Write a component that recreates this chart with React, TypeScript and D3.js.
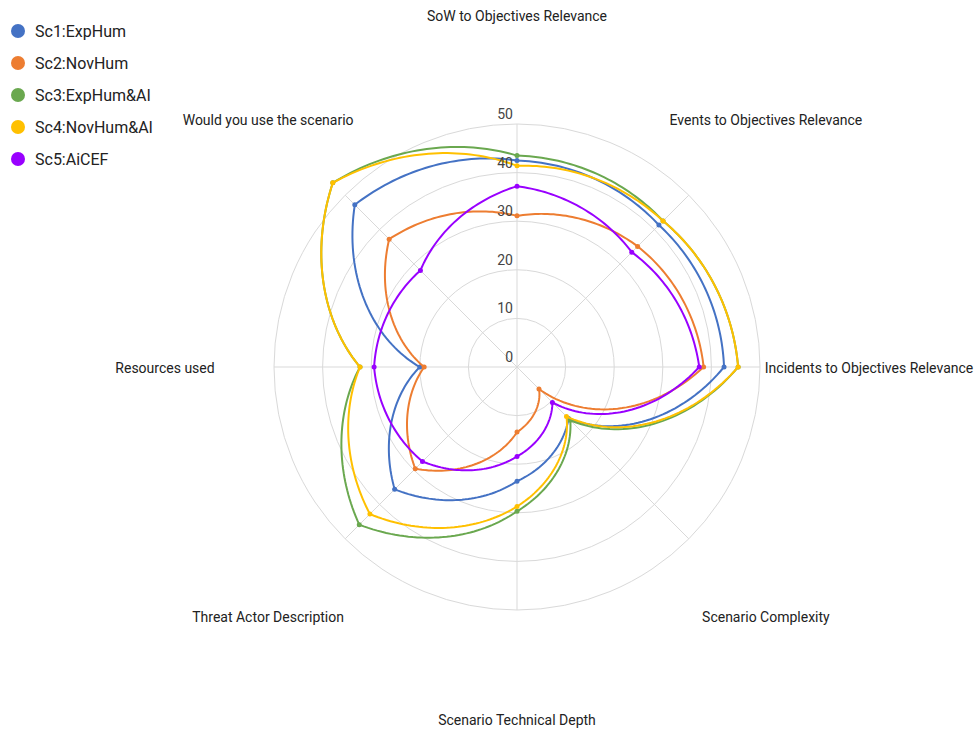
import { useEffect } from 'react'
import { lineRadial, scaleLinear } from 'd3'

const WIDTH = 979
const HEIGHT = 733
const CX = 517
const CY = 367
const RADIUS = 243
const LABEL_RADIUS = 352

const axes = [
  'SoW to Objectives Relevance',
  'Events to Objectives Relevance',
  'Incidents to Objectives Relevance',
  'Scenario Complexity',
  'Scenario Technical Depth',
  'Threat Actor Description',
  'Resources used',
  'Would you use the scenario',
]

const ticks = [0, 10, 20, 30, 40, 50]

const seriesNames = ['Sc1:ExpHum', 'Sc2:NovHum', 'Sc3:ExpHum&AI', 'Sc4:NovHum&AI', 'Sc5:AiCEF']
const seriesColors = ['#4472c4', '#ed7d31', '#6aa84f', '#ffc000', '#9900ff']

const sc1 = [42.5, 41.3, 42.6, 15, 23.5, 35.6, 20, 47.2]
const sc2 = [31.1, 35.1, 38.4, 6.4, 13.4, 29.6, 19.1, 37.2]
const sc3 = [43.5, 42.5, 45.5, 15.5, 29.7, 45.9, 32.3, 53.6]
const sc4 = [41.4, 42.5, 45.5, 14.4, 28.7, 42.8, 32.3, 53.6]
const sc5 = [37.2, 33.4, 37.5, 10.3, 18.4, 27.5, 29.4, 28.1]

const seriesValues = [sc1, sc2, sc3, sc4, sc5]

// closed curve that joins points along spirals (radius linear in angle), like the polar chart does
function curvePolarClosed(context: any) {
  let pts: [number, number][] = []
  return {
    areaStart() {},
    areaEnd() {},
    lineStart() {
      pts = []
    },
    point(x: number, y: number) {
      pts.push([x, y])
    },
    lineEnd() {
      const n = pts.length
      for (let i = 0; i < n; i++) {
        const [ax, ay] = pts[i]
        const [bx, by] = pts[(i + 1) % n]
        const ra = Math.hypot(ax, ay)
        const rb = Math.hypot(bx, by)
        const ta = Math.atan2(ay, ax)
        let tb = Math.atan2(by, bx)
        while (tb - ta > Math.PI) tb -= 2 * Math.PI
        while (tb - ta < -Math.PI) tb += 2 * Math.PI
        if (i === 0) context.moveTo(ax, ay)
        const steps = 40
        for (let s = 1; s <= steps; s++) {
          const t = s / steps
          const r = ra + (rb - ra) * t
          const th = ta + (tb - ta) * t
          context.lineTo(r * Math.cos(th), r * Math.sin(th))
        }
      }
      context.closePath()
    },
  }
}

export default function App() {
  useEffect(() => {
    document.body.style.margin = '0'
  }, [])

  const r = scaleLinear().domain([0, 50]).range([0, RADIUS])
  const angle = (i: number) => (i * 2 * Math.PI) / axes.length

  const radar = lineRadial<number>()
    .angle((_, i) => angle(i))
    .radius((v) => r(v))
    .curve(curvePolarClosed as any)

  const font = 'Roboto, Arial, sans-serif'

  return (
    <svg width={WIDTH} height={HEIGHT} style={{ display: 'block', background: '#fff' }}>
      <g transform={`translate(${CX},${CY})`}>
        {ticks.slice(1).map((t) => (
          <circle key={t} r={r(t)} fill="none" stroke="#d9d9d9" strokeWidth={1} />
        ))}
        {axes.map((_, i) => (
          <line
            key={i}
            x1={0}
            y1={0}
            x2={r(50) * Math.sin(angle(i))}
            y2={-r(50) * Math.cos(angle(i))}
            stroke="#d9d9d9"
            strokeWidth={1}
          />
        ))}
        {axes.map((label, i) => (
          <text
            key={label}
            x={LABEL_RADIUS * Math.sin(angle(i))}
            y={-LABEL_RADIUS * Math.cos(angle(i)) + 1.5}
            dy="0.35em"
            textAnchor="middle"
            fontFamily={font}
            fontSize={14}
            fill="#222"
          >
            {label}
          </text>
        ))}
        {seriesValues.map((values, s) => (
          <g key={seriesNames[s]}>
            <path d={radar(values) ?? ''} fill="none" stroke={seriesColors[s]} strokeWidth={2} />
            {values.map((v, i) => (
              <circle
                key={i}
                cx={r(v) * Math.sin(angle(i))}
                cy={-r(v) * Math.cos(angle(i))}
                r={2.5}
                fill={seriesColors[s]}
              />
            ))}
          </g>
        ))}
        {ticks.map((t) => (
          <text
            key={t}
            x={-4}
            y={-r(t) - 5}
            textAnchor="end"
            fontFamily={font}
            fontSize={14}
            fill="#444"
          >
            {t}
          </text>
        ))}
      </g>
      <g>
        {seriesNames.map((name, s) => (
          <g key={name} transform={`translate(18,${31 + s * 32})`}>
            <circle r={7} fill={seriesColors[s]} />
            <text x={17} dy="0.35em" fontFamily={font} fontSize={16} fill="#222">
              {name}
            </text>
          </g>
        ))}
      </g>
    </svg>
  )
}
